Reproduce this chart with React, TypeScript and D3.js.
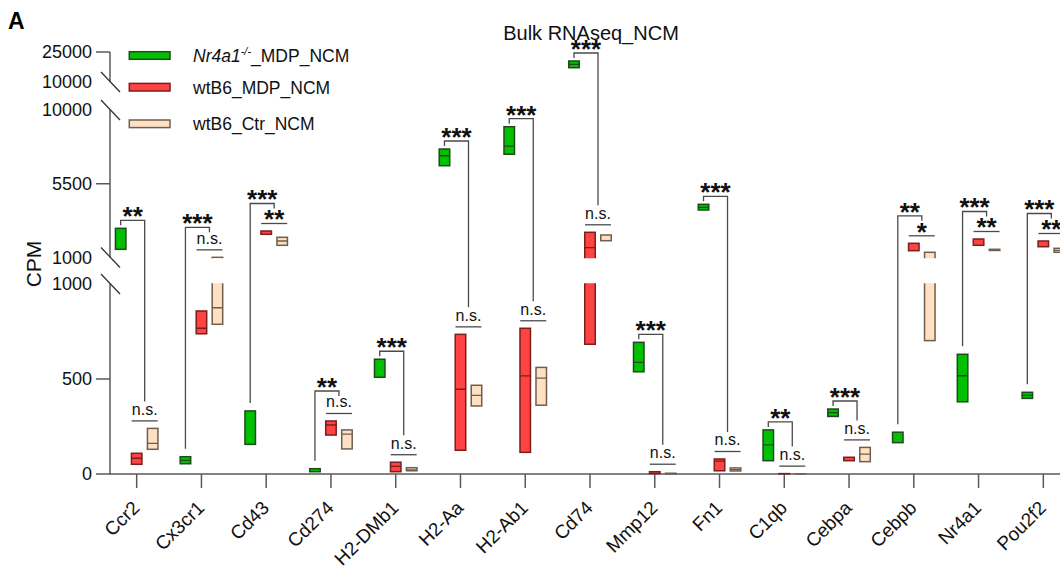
import React from "react";
import * as d3 from "d3";

const genes = ["Ccr2", "Cx3cr1", "Cd43", "Cd274", "H2-DMb1", "H2-Aa", "H2-Ab1", "Cd74", "Mmp12", "Fn1", "C1qb", "Cebpa", "Cebpb", "Nr4a1", "Pou2f2"];

// Nr4a1-/- MDP NCM
const koMin = [1500, 54, 156, 12, 509, 6600, 7300, 17150, 538, 3898, 70, 303, 165, 380, 398];
const koMed: (number | null)[] = [null, 72, null, null, null, 7210, 7800, 18850, 588, 4063, 153, 323, null, 517, 414];
const koMax = [2780, 91, 332, 28, 604, 7620, 8980, 20500, 693, 4246, 232, 342, 220, 630, 430];
// wtB6 MDP NCM
const wtMin = [51, 738, 2416, 205, 12, 125, 114, 683, 2, 17, 0, 70, 1415, 1744, 1659];
const wtMed: (number | null)[] = [83, 767, null, 258, 40, 446, 516, 1598, null, 68, null, null, null, null, null];
const wtMax = [109, 858, 2617, 279, 62, 735, 767, 2538, 12, 79, 2, 88, 1866, 2129, 2007];
// wtB6 Ctr NCM
const ctrMin = [130, 788, 1744, 132, 17, 358, 362, 2025, 0, 16, 0, 65, 702, 1430, 1317];
const ctrMed: (number | null)[] = [161, 875, 2007, 210, 22, 414, 505, null, null, 23, null, 105, null, null, 1440];
const ctrMax = [240, 1010, 2232, 232, 33, 467, 561, 2373, 4, 32, 1, 140, 1317, 1500, 1561];

const sigKO = ["**", "***", "***", "**", "***", "***", "***", "***", "***", "***", "**", "***", "**", "***", "***"];
const sigWT = ["n.s.", "n.s.", "**", "n.s.", "n.s.", "n.s.", "n.s.", "n.s.", "n.s.", "n.s.", "n.s.", "n.s.", "*", "**", "**"];

const yTickValues = [0, 500, 5500, 25000];
const seriesNames = ["Nr4a1", "wtB6_MDP_NCM", "wtB6_Ctr_NCM"];

const FONT = "'Liberation Sans', Arial, Helvetica, sans-serif";
const W = 1060;
const H = 569;

const seg1 = d3.scaleLinear().domain([0, 1000]).range([474, 284]);
const seg2 = d3.scaleLinear().domain([1000, 10000]).range([257.5, 110]);
const seg3 = d3.scaleLinear().domain([10000, 25000]).range([82, 52]);
const segments = [seg1, seg2, seg3];

function yPx(v: number) {
  if (v <= 1000) return seg1(v);
  if (v <= 10000) return seg2(v);
  return seg3(v);
}

const x = d3.scaleBand<string>().domain(genes).range([104.3, 1075.7]);
const cx = (g: string) => (x(g) as number) + x.bandwidth() / 2;

const series = [
  { mins: koMin, meds: koMed, maxs: koMax, fill: "#00c000", stroke: "#1f4a1f", off: -16 },
  { mins: wtMin, meds: wtMed, maxs: wtMax, fill: "#ff4242", stroke: "#7a1e1e", off: 0 },
  { mins: ctrMin, meds: ctrMed, maxs: ctrMax, fill: "#ffe0c2", stroke: "#6f5e50", off: 16 },
];

const BAR_W = 10.5;
const AXIS = "#5a5a5a";
const BR = "#4a4a4a";

export default function App() {
  const segClip = segments.map((s, i) => {
    const [a, b] = s.range();
    return { id: `seg${i}`, y: Math.min(a, b) - 0.8, h: Math.abs(a - b) + 1.6 };
  });

  const bars: React.ReactNode[] = [];
  series.forEach((s, si) => {
    genes.forEach((g, gi) => {
      const bx = cx(g) + s.off - BAR_W / 2;
      segments.forEach((sc, k) => {
        const [d0, d1] = sc.domain();
        if (s.maxs[gi] < d0 || s.mins[gi] > d1) return;
        if (s.mins[gi] === d1) return;
        const yTop = sc(s.maxs[gi]);
        const yBot = sc(s.mins[gi]);
        const med = s.meds[gi];
        bars.push(
          <g key={`b${si}-${gi}-${k}`} clipPath={`url(#seg${k})`}>
            <rect x={bx} y={yTop} width={BAR_W} height={Math.max(0.01, yBot - yTop)} fill={s.fill} stroke={s.stroke} strokeWidth={1.5} />
            {med !== null && med >= d0 && med <= d1 ? (
              <line x1={bx} x2={bx + BAR_W} y1={sc(med)} y2={sc(med)} stroke={s.stroke} strokeWidth={1.3} />
            ) : null}
          </g>
        );
      });
    });
  });

  const brackets = genes.map((g, i) => {
    const c = cx(g);
    const gX = c - 16;
    const rX = c;
    const pX = c + 16;
    const mid = (rX + pX) / 2;
    const rpTop = Math.min(yPx(wtMax[i]), yPx(ctrMax[i]));
    const b2 = rpTop - 7.5;
    const ns2 = sigWT[i] === "n.s.";
    const b2TextTop = ns2 ? b2 - 14.5 : b2 - 12;
    const gTop = yPx(koMax[i]);
    const b1 = Math.min(gTop, b2TextTop) - 8;
    const leftEnd = Math.max(b1 + 5, gTop - 8);
    const rightEnd = Math.max(b1 + 5, b2TextTop - 5);
    const ns1 = sigKO[i] === "n.s.";
    return (
      <g key={`br${i}`}>
        <path d={`M${gX},${leftEnd}V${b1}H${mid}V${rightEnd}`} fill="none" stroke={BR} strokeWidth={1.3} />
        <text x={(gX + mid) / 2} y={ns1 ? b1 - 6 : b1 + 5} textAnchor="middle" fontSize={ns1 ? 16 : 26} fontWeight={ns1 ? "normal" : "bold"} fontFamily={FONT} fill="#111">
          {sigKO[i]}
        </text>
        <line x1={rX - 5} x2={pX + 5} y1={b2} y2={b2} stroke={BR} strokeWidth={1.3} />
        <text x={mid} y={ns2 ? b2 - 6 : b2 + 5} textAnchor="middle" fontSize={ns2 ? 16 : 26} fontWeight={ns2 ? "normal" : "bold"} fontFamily={FONT} fill="#111">
          {sigWT[i]}
        </text>
      </g>
    );
  });

  const breakPts = [
    { v: 1000, s: seg1, label: "1000" },
    { v: 1000, s: seg2, label: "1000" },
    { v: 10000, s: seg2, label: "10000" },
    { v: 10000, s: seg3, label: "10000" },
  ];

  const legendRows = [55.5, 87.2, 123.8];

  return (
    <div style={{ position: "absolute", left: 0, top: 0 }}>
      <svg width={W} height={H} viewBox={`0 0 ${W} ${H}`} style={{ display: "block", background: "#fff" }}>
        <defs>
          {segClip.map((c) => (
            <clipPath id={c.id} key={c.id}>
              <rect x={0} y={c.y} width={W} height={c.h} />
            </clipPath>
          ))}
        </defs>
        <rect x={0} y={0} width={W} height={H} fill="#fff" />
        <text x={8} y={28.5} fontSize={23} fontWeight="bold" fontFamily={FONT} fill="#000">A</text>
        <text x={591} y={40} textAnchor="middle" fontSize={20} fontFamily={FONT} fill="#111">Bulk RNAseq_NCM</text>
        <text transform="translate(41,264) rotate(-90)" textAnchor="middle" fontSize={21} fontFamily={FONT} fill="#111">CPM</text>

        {/* y axis segments */}
        {segments.map((s, i) => {
          const [a, b] = s.range();
          return <line key={`ax${i}`} x1={110} x2={110} y1={a} y2={b} stroke={AXIS} strokeWidth={1.5} />;
        })}
        {yTickValues.map((v) => {
          const y = yPx(v);
          return (
            <g key={`t${v}`}>
              <line x1={96} x2={110} y1={y} y2={y} stroke={AXIS} strokeWidth={1.5} />
              <text x={92} y={y} dy="0.35em" textAnchor="end" fontSize={18} fontFamily={FONT} fill="#111">{v}</text>
            </g>
          );
        })}
        {breakPts.map((b, i) => {
          const y = b.s(b.v);
          return (
            <g key={`bk${i}`}>
              <line x1={101} x2={120} y1={y - 10} y2={y + 10} stroke="#333" strokeWidth={1.3} />
              <text x={92} y={y} dy="0.35em" textAnchor="end" fontSize={18} fontFamily={FONT} fill="#111">{b.label}</text>
            </g>
          );
        })}

        {/* x axis */}
        <line x1={109.3} x2={W} y1={474} y2={474} stroke={AXIS} strokeWidth={1.5} />
        {genes.map((g) => {
          const c = cx(g);
          return (
            <g key={`xt${g}`}>
              <line x1={c} x2={c} y1={474} y2={488} stroke={AXIS} strokeWidth={1.5} />
              <text transform={`translate(${c + 4},509) rotate(-45)`} textAnchor="end" fontSize={19} fontFamily={FONT} fill="#111">{g}</text>
            </g>
          );
        })}

        {bars}
        {brackets}

        {/* legend */}
        {series.map((s, i) => (
          <rect key={`lg${i}`} x={129.3} y={legendRows[i] - 3.8} width={40.7} height={7.6} fill={s.fill} stroke={s.stroke} strokeWidth={1.5} />
        ))}
        <text x={193} y={legendRows[0] + 6.5} fontSize={17.5} fontFamily={FONT} fill="#111">
          <tspan fontStyle="italic">{seriesNames[0]}</tspan>
          <tspan fontStyle="italic" fontSize={11} dy={-7}>-/-</tspan>
          <tspan dy={7}>_MDP_NCM</tspan>
        </text>
        <text x={193} y={legendRows[1] + 6.5} fontSize={17.5} fontFamily={FONT} fill="#111">{seriesNames[1]}</text>
        <text x={193} y={legendRows[2] + 6.5} fontSize={17.5} fontFamily={FONT} fill="#111">{seriesNames[2]}</text>
      </svg>
    </div>
  );
}
